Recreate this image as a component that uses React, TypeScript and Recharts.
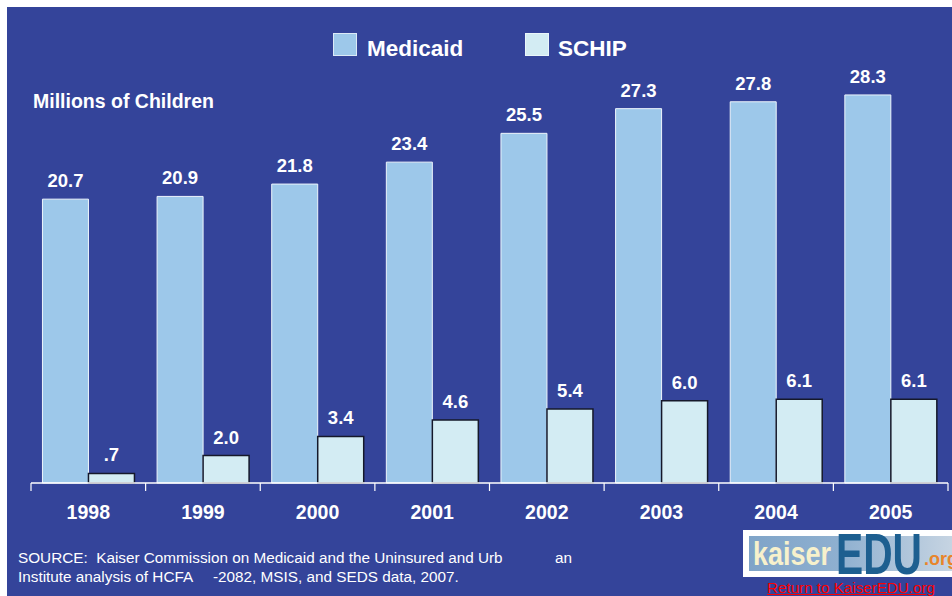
import React from "react";
import { BarChart, Bar, XAxis, YAxis, LabelList } from "recharts";

const years = ["1998", "1999", "2000", "2001", "2002", "2003", "2004", "2005"];
const medicaid = [20.7, 20.9, 21.8, 23.4, 25.5, 27.3, 27.8, 28.3];
const schip = [0.7, 2.0, 3.4, 4.6, 5.4, 6.0, 6.1, 6.1];
const seriesNames = ["Medicaid", "SCHIP"];
const yDomain = [0, 29.9];

const data = years.map((y, i) => ({ year: y, medicaid: medicaid[i], schip: schip[i] }));

const FONT = "'Liberation Sans', Arial, Helvetica, sans-serif";
const BG = "#34449A";
const MED_FILL = "#9DC8EA";
const SCHIP_FILL = "#D3ECF3";

const W = 952;
const H = 596;
const margin = { top: 73, right: 4, bottom: 73, left: 31 };
const plotW = W - margin.left - margin.right;
const band = plotW / years.length;

const fmt = (v: any) => {
  const n = Number(v);
  const s = n.toFixed(1);
  return n < 1 ? s.replace(/^0/, "") : s;
};

const Tick = (props: any) => {
  const { x, y, payload, index } = props;
  const axisY = y - 8;
  const left = x - band / 2;
  const right = x + band / 2;
  return (
    <g>
      <line x1={left} y1={axisY} x2={left} y2={axisY + 8} stroke="#ffffff" strokeWidth={1.2} />
      {index === years.length - 1 && (
        <line x1={right} y1={axisY} x2={right} y2={axisY + 8} stroke="#ffffff" strokeWidth={1.2} />
      )}
      <text
        x={x}
        y={axisY + 36}
        textAnchor="middle"
        fill="#ffffff"
        fontFamily={FONT}
        fontWeight="bold"
        fontSize={19.5}
      >
        {payload.value}
      </text>
    </g>
  );
};

export default function App() {
  return (
    <div style={{ position: "absolute", left: 0, top: 0, width: W, height: H, background: "#ffffff", overflow: "hidden", fontFamily: FONT }}>
      <div style={{ position: "absolute", left: 7, top: 7, width: W - 7, height: H - 7, background: BG }} />
      <div style={{ position: "absolute", left: 0, top: 0 }}>
        <BarChart width={W} height={H} data={data} margin={margin} barCategoryGap="10%" barGap={0}>
          <XAxis
            dataKey="year"
            height={40}
            axisLine={{ stroke: "#ffffff", strokeWidth: 1.5 }}
            tickLine={false}
            tick={<Tick />}
            interval={0}
          />
          <YAxis hide domain={yDomain} />
          <Bar dataKey="medicaid" name={seriesNames[0]} fill={MED_FILL} stroke="#EEF5FC" strokeWidth={1} isAnimationActive={false}>
            <LabelList dataKey="medicaid" position="top" offset={12} formatter={fmt} fill="#ffffff" fontFamily={FONT} fontWeight="bold" fontSize={18.5} />
          </Bar>
          <Bar dataKey="schip" name={seriesNames[1]} fill={SCHIP_FILL} stroke="#15182A" strokeWidth={1.5} isAnimationActive={false}>
            <LabelList dataKey="schip" position="top" offset={12} formatter={fmt} fill="#ffffff" fontFamily={FONT} fontWeight="bold" fontSize={18.5} />
          </Bar>
        </BarChart>
      </div>

      {/* Legend */}
      <div style={{ position: "absolute", left: 333, top: 33, width: 22, height: 21, background: MED_FILL, border: "1.5px solid #DCEAF7" }} />
      <div style={{ position: "absolute", left: 367, top: 37.6, fontSize: 22.5, lineHeight: "22.5px", fontWeight: "bold", color: "#ffffff", whiteSpace: "nowrap" }}>{seriesNames[0]}</div>
      <div style={{ position: "absolute", left: 525, top: 33, width: 22, height: 21, background: SCHIP_FILL, border: "1.5px solid #EAF6FA" }} />
      <div style={{ position: "absolute", left: 558, top: 37.6, fontSize: 22.5, lineHeight: "22.5px", fontWeight: "bold", color: "#ffffff", whiteSpace: "nowrap" }}>{seriesNames[1]}</div>

      {/* Axis title */}
      <div style={{ position: "absolute", left: 33, top: 91.8, fontSize: 19.5, lineHeight: "19.5px", fontWeight: "bold", color: "#ffffff", whiteSpace: "nowrap" }}>
        Millions of Children
      </div>

      {/* Source */}
      <div style={{ position: "absolute", left: 18, top: 548.2, fontSize: 15.3, lineHeight: "19px", color: "#ffffff", whiteSpace: "pre" }}>
        {"SOURCE:  Kaiser Commission on Medicaid and the Uninsured and Urb"}
      </div>
      <div style={{ position: "absolute", left: 555, top: 548.2, fontSize: 15.3, lineHeight: "19px", color: "#ffffff", whiteSpace: "pre" }}>
        {"an"}
      </div>
      <div style={{ position: "absolute", left: 18, top: 567.2, fontSize: 15.3, lineHeight: "19px", color: "#ffffff", whiteSpace: "pre" }}>
        {"Institute analysis of HCFA"}
      </div>
      <div style={{ position: "absolute", left: 213, top: 567.2, fontSize: 15.3, lineHeight: "19px", color: "#ffffff", whiteSpace: "pre" }}>
        {"-2082, MSIS, and SEDS data, 2007."}
      </div>

      {/* Logo */}
      <svg style={{ position: "absolute", left: 743, top: 530 }} width={209} height={48}>
        <defs>
          <linearGradient id="lg" x1="0" y1="0" x2="1" y2="0">
            <stop offset="0" stopColor="#7FA4C8" />
            <stop offset="0.45" stopColor="#8FB0D0" />
            <stop offset="1" stopColor="#C6D4E2" />
          </linearGradient>
        </defs>
        <rect x={0} y={0} width={209} height={47} fill="#ffffff" />
        <rect x={6} y={6} width={203} height={35} fill="url(#lg)" />
        <text x={10} y={35} fill="#F7F1CC" fontFamily={FONT} fontWeight="bold" fontSize={33} textLength={78} lengthAdjust="spacingAndGlyphs">kaiser</text>
        <text x={93} y={44} fill="#1D5F90" fontFamily={FONT} fontWeight="bold" fontSize={58} textLength={86} lengthAdjust="spacingAndGlyphs">EDU</text>
        <text x={181} y={35} fill="#E8852B" fontFamily={FONT} fontWeight="bold" fontSize={18}>.org</text>
      </svg>
      <div style={{ position: "absolute", left: 767, top: 579, fontSize: 15.2, lineHeight: "17px", color: "#ff0000", textDecoration: "underline", whiteSpace: "nowrap" }}>
        Return to KaiserEDU.org
      </div>
    </div>
  );
}
